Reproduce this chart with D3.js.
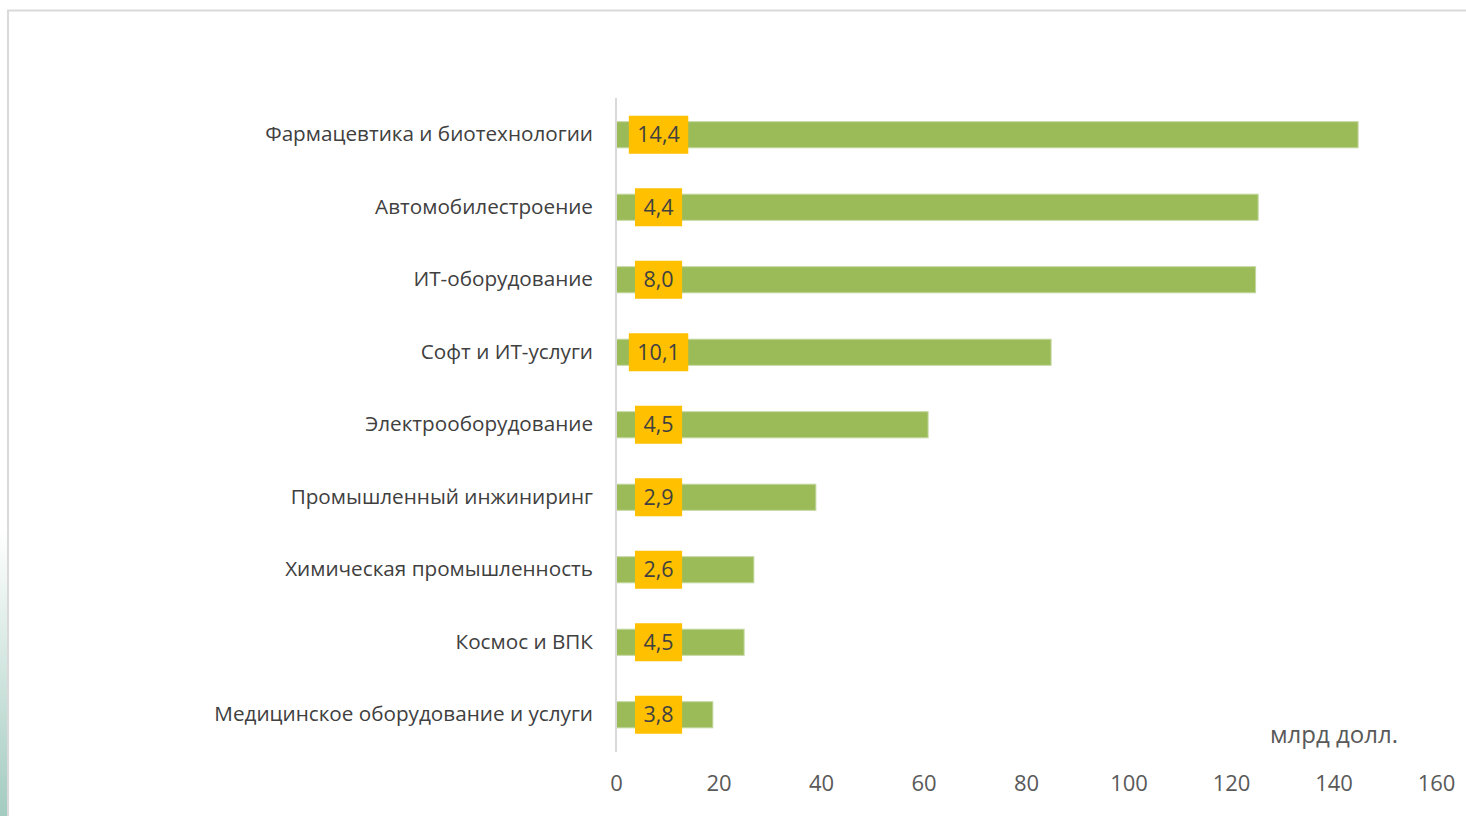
<!DOCTYPE html>
<html>
<head>
<meta charset="utf-8">
<script src="https://cdn.jsdelivr.net/npm/d3@7"></script>
<style>
  body { margin: 0; background: #fff; }
  svg text { font-family: "Open Sans", "Noto Sans", sans-serif; }
</style>
</head>
<body>
<div id="chart"></div>
<script>
var categories = [
  "Фармацевтика и биотехнологии",
  "Автомобилестроение",
  "ИТ-оборудование",
  "Софт и ИТ-услуги",
  "Электрооборудование",
  "Промышленный инжиниринг",
  "Химическая промышленность",
  "Космос и ВПК",
  "Медицинское оборудование и услуги"
];
var totals = [144.8, 125.3, 124.8, 84.9, 60.9, 39.0, 26.9, 25.0, 18.9];
var labels = ["14,4", "4,4", "8,0", "10,1", "4,5", "2,9", "2,6", "4,5", "3,8"];
var ticks = [0, 20, 40, 60, 80, 100, 120, 140, 160];
var unit = "млрд долл.";

var width = 1466, height = 816;
var svg = d3.select("#chart").append("svg")
  .attr("width", width).attr("height", height);

// side fade at bottom-left
var defs = svg.append("defs");
var grad = defs.append("linearGradient").attr("id", "fade")
  .attr("x1", 0).attr("y1", 0).attr("x2", 0).attr("y2", 1);
grad.append("stop").attr("offset", "0%").attr("stop-color", "#ffffff");
grad.append("stop").attr("offset", "100%").attr("stop-color", "#a3cbbf");
svg.append("rect").attr("x", 0).attr("y", 530).attr("width", 7).attr("height", 286)
  .attr("fill", "url(#fade)");

// frame
svg.append("path")
  .attr("d", "M8,816 V10.5 H1466")
  .attr("fill", "none").attr("stroke", "#d9d9d9").attr("stroke-width", 2);

var x = d3.scaleLinear().domain([0, 160]).range([616, 1436]);
var y = d3.scaleBand().domain(categories).range([98.5, 751]).paddingInner(0.64).paddingOuter(0.32);

// x tick labels
var xAxis = svg.append("g").attr("transform", "translate(0,783)")
  .call(d3.axisBottom(x).tickValues(ticks).tickSize(0).tickPadding(0));
xAxis.select(".domain").remove();
xAxis.selectAll("text").attr("font-size", 22).attr("fill", "#595959")
  .attr("dy", "0.35em").attr("font-family", "Open Sans, sans-serif");

// category labels
var yAxis = svg.append("g").attr("transform", "translate(593,0)")
  .call(d3.axisLeft(y).tickSize(0).tickPadding(0));
yAxis.select(".domain").remove();
yAxis.selectAll("text").attr("font-size", 20.7).attr("fill", "#404040")
  .attr("font-family", "Open Sans, sans-serif");

// bars
svg.selectAll("rect.bar").data(totals).enter().append("rect")
  .attr("class", "bar")
  .attr("x", x(0))
  .attr("y", function(d, i) { return y(categories[i]); })
  .attr("width", function(d) { return x(d) - x(0); })
  .attr("height", y.bandwidth())
  .attr("fill", "#9bbb59")
  .attr("stroke", "#c4d8a0").attr("stroke-width", 1);

// axis line
svg.append("line")
  .attr("x1", x(0)).attr("x2", x(0)).attr("y1", 98).attr("y2", 752)
  .attr("stroke", "#d9d9d9").attr("stroke-width", 2);

// value labels
var lab = svg.selectAll("g.lab").data(labels).enter().append("g")
  .attr("class", "lab")
  .attr("transform", function(d, i) {
    return "translate(" + x(8.3) + "," + (y(categories[i]) + y.bandwidth() / 2) + ")";
  });
lab.append("rect").attr("fill", "#ffc000");
lab.append("text")
  .text(function(d) { return d; })
  .attr("text-anchor", "middle").attr("dy", "0.35em")
  .attr("font-size", 21.5).attr("fill", "#404040");
lab.each(function() {
  var g = d3.select(this);
  var w = g.select("text").node().getComputedTextLength() + 17;
  g.select("rect").attr("x", -w / 2).attr("y", -19).attr("width", w).attr("height", 38);
});

svg.append("text").attr("x", 1398).attr("y", 735).attr("dy", "0.35em")
  .attr("text-anchor", "end").attr("font-size", 24).attr("fill", "#595959")
  .text(unit);
</script>
</body>
</html>
